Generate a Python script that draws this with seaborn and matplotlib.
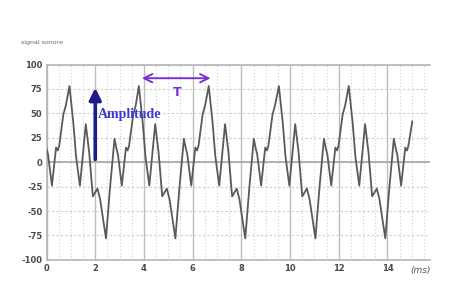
import matplotlib
matplotlib.use("Agg")
import matplotlib.pyplot as plt
import seaborn as sns
import pandas as pd
from matplotlib.ticker import MultipleLocator

# time (ms) and signal values
time_ms = [0.00, 0.06, 0.22, 0.39, 0.46, 0.52, 0.69, 0.79,
           0.94, 1.10, 1.21, 1.37, 1.61, 1.75, 1.90, 2.09, 2.20, 2.44,
           2.60, 2.79, 2.87, 2.93, 3.09, 3.26, 3.33, 3.39, 3.56, 3.66,
           3.79, 3.95, 4.06, 4.22, 4.46, 4.60, 4.75, 4.94, 5.05, 5.29,
           5.45, 5.64, 5.72, 5.78, 5.94, 6.11, 6.18, 6.24, 6.41, 6.51,
           6.66, 6.82, 6.93, 7.09, 7.33, 7.47, 7.62, 7.81, 7.92, 8.16,
           8.32, 8.51, 8.59, 8.65, 8.81, 8.98, 9.05, 9.11, 9.28, 9.38,
           9.54, 9.70, 9.81, 9.97, 10.21, 10.35, 10.50, 10.69, 10.80, 11.04,
           11.20, 11.39, 11.47, 11.53, 11.69, 11.86, 11.93, 11.99, 12.16, 12.26,
           12.41, 12.57, 12.68, 12.84, 13.08, 13.22, 13.37, 13.56, 13.67, 13.91,
           14.07, 14.26, 14.34, 14.40, 14.56, 14.73, 14.80, 14.86, 15.02]
signal = [14, 8, -24, 15, 12, 17, 49, 58,
          78, 40, 6, -24, 39, 10, -35, -27, -38, -78,
          -28, 24, 14, 8, -24, 15, 12, 17, 49, 58,
          78, 40, 6, -24, 39, 10, -35, -27, -38, -78,
          -28, 24, 14, 8, -24, 15, 12, 17, 49, 58,
          78, 40, 6, -24, 39, 10, -35, -27, -38, -78,
          -28, 24, 14, 8, -24, 15, 12, 17, 49, 58,
          78, 40, 6, -24, 39, 10, -35, -27, -38, -78,
          -28, 24, 14, 8, -24, 15, 12, 17, 49, 58,
          78, 40, 6, -24, 39, 10, -35, -27, -38, -78,
          -28, 24, 14, 8, -24, 15, 12, 17, 42]

x_ticks = [0, 2, 4, 6, 8, 10, 12, 14]
y_ticks = [-100, -75, -50, -25, 0, 25, 50, 75, 100]

sns.set_style("white")
plt.rcParams["axes.unicode_minus"] = False
fig = plt.figure(figsize=(4.61, 2.92), dpi=100)
ax = fig.add_axes([0.101, 0.11, 0.832, 0.669])

df = pd.DataFrame({"t": time_ms, "s": signal})
sns.lineplot(data=df, x="t", y="s", ax=ax, sort=False, estimator=None,
             color="#5a5a5a", linewidth=1.3, zorder=5)

ax.set_xlim(0, 15.75)
ax.set_ylim(-100, 100)
ax.set_xticks(x_ticks)
ax.set_yticks(y_ticks)
ax.xaxis.set_minor_locator(MultipleLocator(0.5))
ax.grid(which="major", axis="x", color="#bdbdbd", linewidth=1.0, linestyle="-")
ax.grid(which="minor", axis="x", color="#d2d2d2", linewidth=0.8, linestyle=(0, (1, 2)))
ax.grid(which="major", axis="y", color="#cccccc", linewidth=0.8, linestyle=(0, (2, 2)))
ax.axhline(0, color="#a5a5a5", linewidth=1.2, zorder=2)
ax.tick_params(which="both", length=0)
ax.tick_params(axis="both", labelsize=6, labelcolor="#4a4a4a", pad=3)
for lab in ax.get_xticklabels() + ax.get_yticklabels():
    lab.set_fontweight("bold")
ax.set_xlabel("")
ax.set_ylabel("")
for side in ["top", "bottom", "left"]:
    ax.spines[side].set_color("#b5b5b5")
    ax.spines[side].set_linewidth(1.2)
ax.spines["right"].set_visible(False)

ax.text(14.95, -106, "(ms)", fontsize=6.5, style="italic", color="#555555",
        ha="left", va="top")
fig.text(0.045, 0.85, "signal sonore", fontsize=4.5, color="#666666")

# Amplitude arrow
ax.annotate("", xy=(2, 79), xytext=(2, 0),
            arrowprops=dict(arrowstyle="-|>,head_width=0.35,head_length=0.7",
                            color="#1c1c8a", lw=2.6), zorder=6)
ax.text(2.1, 49, "Amplitude", fontsize=10, fontweight="bold",
        family="Liberation Serif", color="#3b3bd0", va="center", ha="left", zorder=7)

# Period arrow
ax.annotate("", xy=(6.85, 86), xytext=(3.8, 86),
            arrowprops=dict(arrowstyle="<->,head_width=0.3,head_length=0.6",
                            color="#7a30d0", lw=1.4), zorder=6)
ax.text(5.35, 71, "T", fontsize=9, fontweight="bold", color="#7a30d0",
        ha="center", va="center", zorder=7)

fig.savefig("out.png", dpi=100)
